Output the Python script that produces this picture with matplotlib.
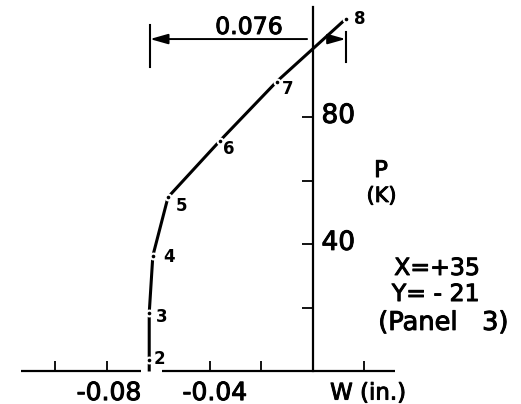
import matplotlib
matplotlib.use("Agg")
import matplotlib.pyplot as plt
import matplotlib.patheffects as pe

# load-deflection record, load steps 2..8
steps = ["2", "3", "4", "5", "6", "7", "8"]
defl = [-0.0636, -0.0636, -0.0622, -0.0563, -0.0361, -0.0141, 0.0127]   # W (in.)
load = [3.6, 18.4, 36.4, 54.9, 72.7, 91.3, 111.0]                      # P (K)
start_load = 0.0
span = 0.076

x_ticks = [-0.10, -0.08, -0.04, -0.02, 0.02]
x_labels = ["-0.08", "-0.04"]
x_label_pos = [-0.0792, -0.0381]
y_ticks = [20, 40, 60, 80]
y_labels = ["40", "80"]

plt.rcParams["font.family"] = "DejaVu Sans"
# slightly heavier lettering
thick = [pe.withStroke(linewidth=0.7, foreground="black")]

fig = plt.figure(figsize=(5.21, 4.04), dpi=100)
ax = fig.add_axes([0, 0, 1, 1])
ax.set_xlim(-0.12155, 0.08078)
ax.set_ylim(-10.24, 117.0)

# axes through the origin
for s in ["top", "right", "bottom"]:
    ax.spines[s].set_visible(False)
ax.spines["bottom"].set_position(("data", 0))
ax.spines["left"].set_position(("data", 0))
ax.spines["left"].set_bounds(0, 114.8)
ax.spines["left"].set_linewidth(1.6)
ax.plot([-0.1134, -0.0666], [0, 0], color="black", lw=1.6, solid_capstyle="butt")
ax.plot([-0.0588, 0.0318], [0, 0], color="black", lw=1.6, solid_capstyle="butt")

ax.set_xticks(x_ticks)
ax.set_xticklabels([])
ax.tick_params(axis="x", direction="in", length=7, width=1.3)
ax.set_yticks(y_ticks)
ax.set_yticklabels([])
ax.tick_params(axis="y", direction="out", length=8, width=1.3)

for lab, xp in zip(x_labels, x_label_pos):
    ax.text(xp, -6.8, lab, ha="center", va="center", fontsize=18, path_effects=thick)
for lab in y_labels:
    ax.text(0.0033, int(lab) + 0.5, lab, ha="left", va="center", fontsize=19,
            path_effects=thick)

ax.text(0.0214, -6.8, "W (in.)", ha="center", va="center", fontsize=16.5, path_effects=thick)
ax.text(0.0264, 63.3, "P", ha="center", va="center", fontsize=16.5, path_effects=thick)
ax.text(0.0266, 55.3, "(K)", ha="center", va="center", fontsize=15, path_effects=thick)
ax.text(0.0482, 32.6, "X=+35", ha="center", va="center", fontsize=17, path_effects=thick)
ax.text(0.0476, 24.4, "Y= - 21", ha="center", va="center", fontsize=17, path_effects=thick)
ax.text(0.0507, 15.3, "(Panel   3)", ha="center", va="center", fontsize=18.5,
        path_effects=thick)

# deflection curve
ax.plot([defl[0]] + defl, [start_load] + load, color="black", lw=2.2,
        solid_capstyle="butt", zorder=3)
ax.plot(defl, load, "o", ms=3.5, color="black", mec="white", mew=2.2, zorder=4)
ax.plot(defl, load, "o", ms=2.6, color="black", mew=0, zorder=5)

offsets = [(7, 1), (9, -3), (12, -1), (10, -6), (6, -6), (8, -5), (10, 0)]
for s, x, y, off in zip(steps, defl, load, offsets):
    ax.annotate(s, (x, y), xytext=off, textcoords="offset points",
                ha="center", va="center", fontsize=12, fontweight="bold")

# dimension line for total deflection
left = defl[-1] - span
right = defl[-1]
ax.plot([left, left], [96.0, 109.1], color="black", lw=1.5)
ax.plot([right, right], [97.5, 107.0], color="black", lw=1.5)
head = "-|>,head_length=0.6,head_width=0.17"
ax.annotate("", xy=(left, 104.7), xytext=(-0.0023, 104.7),
            arrowprops=dict(arrowstyle=head, color="black", lw=1.4,
                            mutation_scale=18, shrinkA=0, shrinkB=0))
ax.annotate("", xy=(right, 104.7), xytext=(0.0078, 104.7),
            arrowprops=dict(arrowstyle=head, color="black", lw=1.4,
                            mutation_scale=18, shrinkA=0, shrinkB=0))
ax.text(-0.0249, 108.5, f"{span:.3f}", ha="center", va="center", fontsize=17,
        path_effects=thick)

fig.savefig("out.png", dpi=100)
